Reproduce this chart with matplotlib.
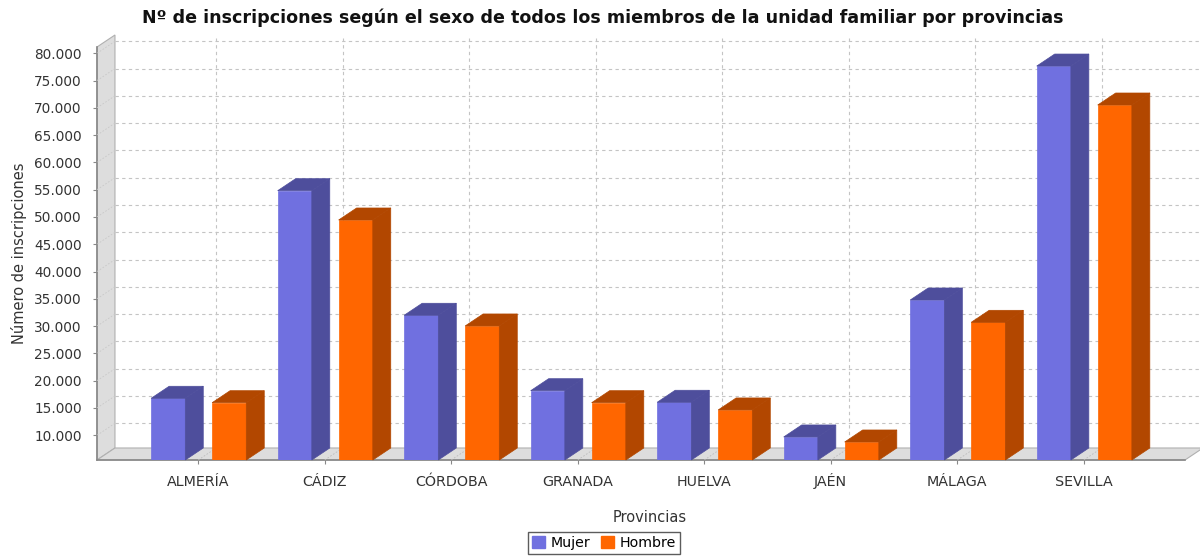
import matplotlib
matplotlib.use("Agg")
import matplotlib.pyplot as plt
from matplotlib.patches import Polygon, Patch
import numpy as np

# Data
provincias = ["ALMERÍA", "CÁDIZ", "CÓRDOBA", "GRANADA", "HUELVA", "JAÉN", "MÁLAGA", "SEVILLA"]
mujer = [16780, 54820, 31990, 18170, 16050, 9690, 34790, 77660]
hombre = [15970, 49450, 30030, 15970, 14640, 8770, 30700, 70520]
y_ticks = list(range(10000, 80001, 5000))
y_tick_labels = [f"{v:,}".replace(",", ".") for v in y_ticks]

# Style
mujer_col, mujer_dark = "#7070E0", "#4E4E9C"
hombre_col, hombre_dark = "#FF6600", "#B24700"
wall_col = "#DDDDDD"
grid_col = "#C4C4C4"
ymin, ymax = 5470, 81150
xmin, xmax = -0.8, 7.8
dx, dy = 0.142, 2200          # 3D depth offset in data units
bw = 0.27                     # bar width
offsets = [-0.237, 0.245]

fig = plt.figure(figsize=(12, 5.57), dpi=100)
ax = fig.add_axes([97 / 1200, 97 / 557, 1088 / 1200, 413 / 557])
ax.set_xlim(xmin, xmax)
ax.set_ylim(ymin, ymax)
for s in ax.spines.values():
    s.set_visible(False)

# walls
left_wall = Polygon([(xmin, ymin), (xmin, ymax), (xmin + dx, ymax + dy), (xmin + dx, ymin + dy)],
                    closed=True, facecolor=wall_col, edgecolor="#B0B0B0", lw=0.8, clip_on=False, zorder=0)
floor = Polygon([(xmin, ymin), (xmax, ymin), (xmax + dx, ymin + dy), (xmin + dx, ymin + dy)],
                closed=True, facecolor=wall_col, edgecolor="#B0B0B0", lw=0.8, clip_on=False, zorder=0)
ax.add_patch(left_wall)
ax.add_patch(floor)
# front edges of walls
ax.plot([xmin, xmin], [ymin, ymax], color="#888888", lw=1.2, clip_on=False, zorder=1)
ax.plot([xmin, xmax], [ymin, ymin], color="#888888", lw=1.2, clip_on=False, zorder=1)

# back wall gridlines
for v in y_ticks:
    ax.plot([xmin + dx, xmax + dx], [v + dy, v + dy], color=grid_col, lw=0.8,
            ls=(0, (3, 3)), clip_on=False, zorder=1)
    ax.plot([xmin, xmin + dx], [v, v + dy], color="#C8C8C8", lw=0.6,
            ls=(0, (2, 2)), clip_on=False, zorder=1)
x = np.arange(len(provincias))
for xi in x:
    ax.plot([xi + dx, xi + dx], [ymin + dy, ymax + dy], color=grid_col, lw=0.8,
            ls=(0, (3, 3)), clip_on=False, zorder=1)
    ax.plot([xi, xi + dx], [ymin, ymin + dy], color="#BBBBBB", lw=0.6,
            ls=(0, (2, 2)), clip_on=False, zorder=1)

# bars
for vals, off, col, dark in [(mujer, offsets[0], mujer_col, mujer_dark),
                             (hombre, offsets[1], hombre_col, hombre_dark)]:
    xs = x + off
    ax.bar(xs, np.array(vals) - ymin, bottom=ymin, width=bw, color=col,
           edgecolor=col, lw=0.5, zorder=3)
    for xc, v in zip(xs, vals):
        x0, x1 = xc - bw / 2, xc + bw / 2
        side = Polygon([(x1, ymin), (x1 + dx, ymin + dy), (x1 + dx, v + dy), (x1, v)],
                       closed=True, facecolor=dark, edgecolor=dark, lw=0.5, zorder=3, clip_on=False)
        top = Polygon([(x0, v), (x1, v), (x1 + dx, v + dy), (x0 + dx, v + dy)],
                      closed=True, facecolor=dark, edgecolor=dark, lw=0.5, zorder=3, clip_on=False)
        ax.add_patch(side)
        ax.add_patch(top)

# axes ticks and labels
ax.set_yticks(y_ticks)
ax.set_yticklabels(y_tick_labels, fontsize=9.8, color="#333333")
ax.set_xticks(x)
ax.set_xticklabels(provincias, fontsize=10.3, color="#333333")
for lbl in ax.get_xticklabels():
    lbl.set_verticalalignment("baseline")
ax.tick_params(axis="y", length=3, color="#888888", pad=8)
ax.tick_params(axis="x", length=3, color="#888888", pad=15.5)
ax.set_ylabel("Número de inscripciones", fontsize=10.5, color="#333333")
ax.yaxis.set_label_coords(-0.064, 0.5)
ax.set_xlabel("Provincias", fontsize=10.5, color="#333333")
ax.xaxis.set_label_coords(0.508, -0.12)

fig.text(0.502, 0.969, "Nº de inscripciones según el sexo de todos los miembros de la unidad familiar por provincias",
         ha="center", va="center", fontsize=12.6, fontweight="bold", color="#111111")

handles = [Patch(facecolor=mujer_col, edgecolor=mujer_col), Patch(facecolor=hombre_col, edgecolor=hombre_col)]
leg = fig.legend(handles, ["Mujer", "Hombre"], loc="center", bbox_to_anchor=(604 / 1200, 1 - 543 / 557),
                 ncol=2, fontsize=10.2, frameon=True, fancybox=False, handlelength=0.9, handleheight=0.9,
                 handletextpad=0.4, columnspacing=0.8, borderpad=0.3, borderaxespad=0)
leg.get_frame().set_edgecolor("#333333")
leg.get_frame().set_linewidth(1.0)

fig.savefig("out.png", dpi=100, facecolor="white")
